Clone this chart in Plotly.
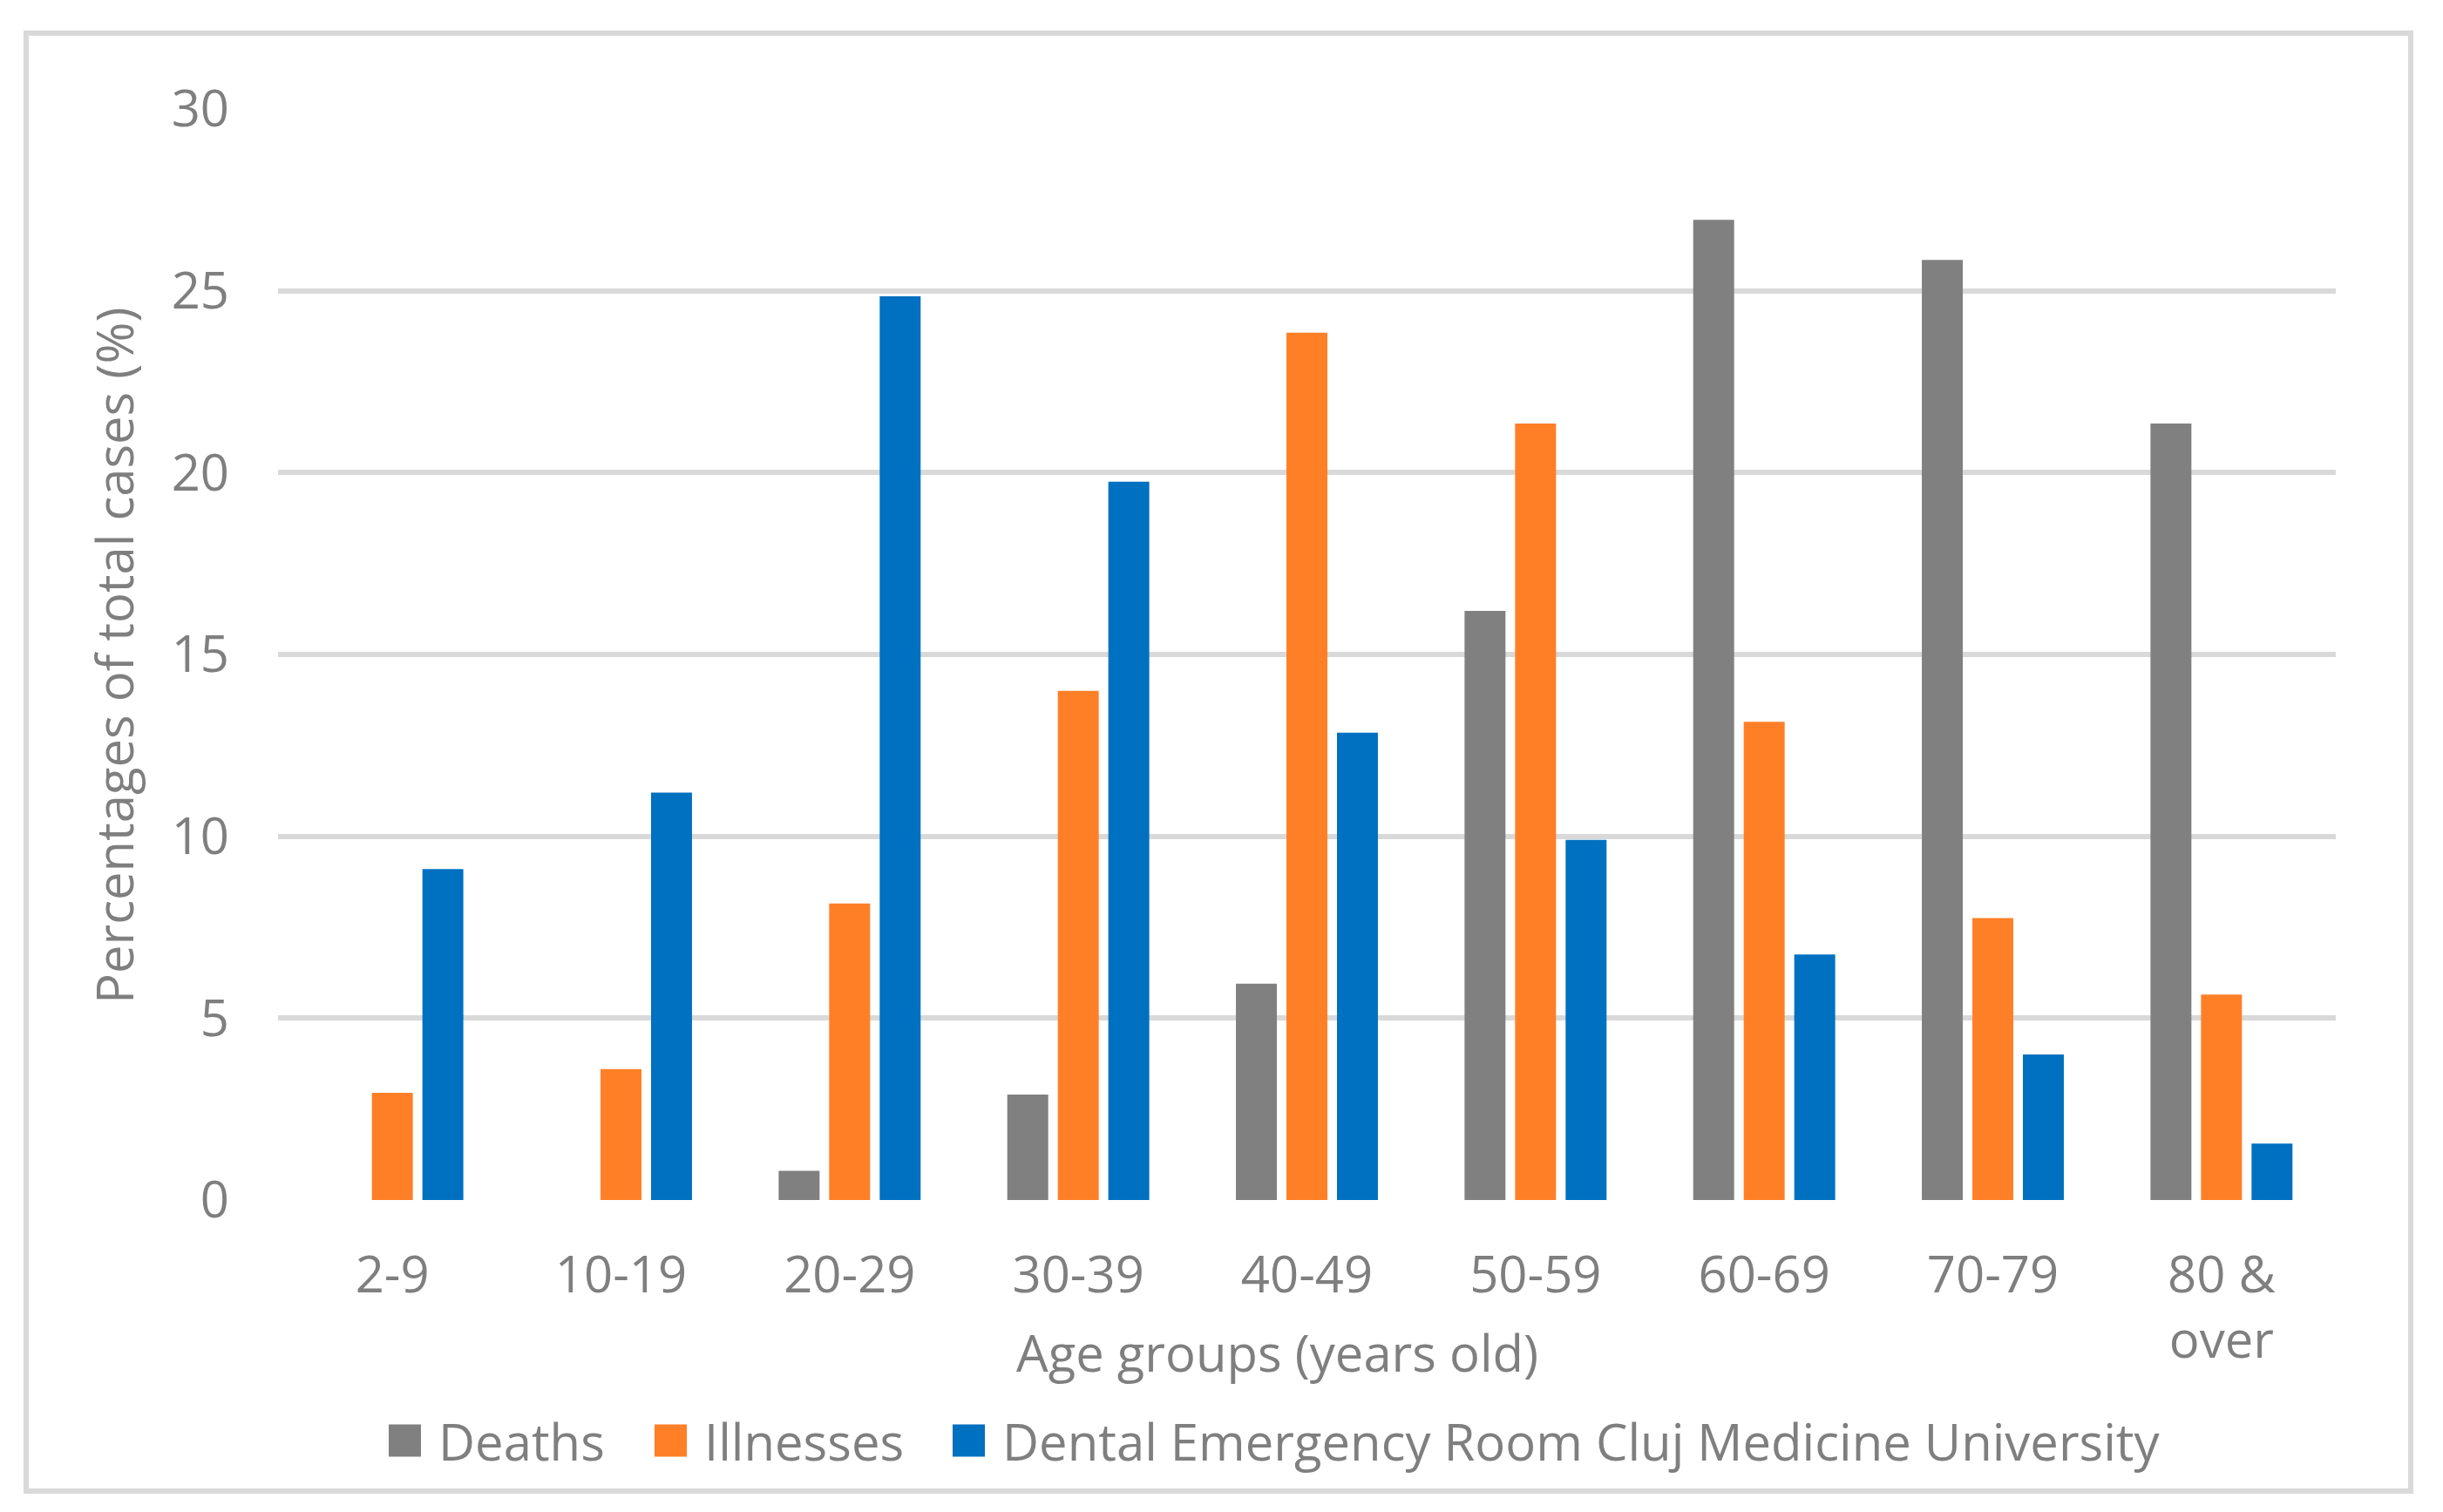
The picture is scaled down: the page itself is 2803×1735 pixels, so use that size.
import plotly.graph_objects as go

# ---------------- data ----------------
categories = ["2-9", "10-19", "20-29", "30-39", "40-49", "50-59", "60-69", "70-79", "80 &<br>over"]
deaths = [0, 0, 0.8, 2.9, 5.95, 16.2, 26.95, 25.85, 21.35]
illnesses = [2.95, 3.6, 8.15, 14.0, 23.85, 21.35, 13.15, 7.75, 5.65]
dental = [9.1, 11.2, 24.85, 19.75, 12.85, 9.9, 6.75, 4.0, 1.55]
series_names = ["Deaths", "Illnesses", "Dental Emergency Room Cluj Medicine University"]
y_ticks = [0, 5, 10, 15, 20, 25, 30]

# ---------------- style ----------------
colors = ["#808080", "#FF7F27", "#0070C0"]
TEXT = "#7f7f7f"
GRID = "#d9d9d9"
FONT = "Open Sans"
FS = 58

# page body has an 8px default margin: size the figure to fit inside it
OFF = 8
W, H = 2803 - 2 * OFF, 1735 - 2 * OFF
# plot area in page pixel coordinates
PX0, PX1, PY0, PY1 = 319, 2680, 125, 1377
L, T = PX0 - OFF, PY0 - OFF
R, B = W - (PX1 - OFF), H - (PY1 - OFF)
PW, PH = PX1 - PX0, PY1 - PY0


def xp(px):
    return (px - PX0) / PW


def yp(py):
    return (PY1 - py) / PH


fig = go.Figure()
for name, vals, col in zip(series_names, [deaths, illnesses, dental], colors):
    fig.add_trace(go.Bar(x=categories, y=vals, name=name, marker_color=col,
                         marker_line_width=0, showlegend=False))

fig.update_layout(
    width=W, height=H,
    margin=dict(l=L, r=R, t=T, b=B, pad=0),
    paper_bgcolor="white", plot_bgcolor="white",
    barmode="group", bargap=0.337, bargroupgap=0.19,
    font=dict(family=FONT, size=FS, color=TEXT),
)
fig.update_xaxes(type="category", showgrid=False, zeroline=False, showline=False,
                 ticks="", ticklabelstandoff=47,
                 tickfont=dict(family=FONT, size=FS, color=TEXT))
fig.update_yaxes(range=[0, 30], tickvals=y_ticks, showgrid=True, gridcolor=GRID,
                 gridwidth=6, zeroline=False, showline=False, ticks="",
                 ticklabelstandoff=55,
                 tickfont=dict(family=FONT, size=FS, color=TEXT))

# axis titles
fig.add_annotation(text="Age groups (years old)", xref="paper", yref="paper",
                   x=xp(1465), y=yp(1551), xanchor="center", yanchor="middle",
                   showarrow=False, font=dict(family=FONT, size=FS, color=TEXT))
fig.add_annotation(text="Percentages of total cases (%)", xref="paper", yref="paper",
                   x=xp(130), y=yp(753), xanchor="center", yanchor="middle",
                   textangle=-90, showarrow=False,
                   font=dict(family=FONT, size=FS, color=TEXT))

# legend (squares + labels)
legend_sq_x = [446, 751, 1093]
SQ = 37
LEG_Y = 1653
for name, col, sx in zip(series_names, colors, legend_sq_x):
    fig.add_shape(type="rect", xref="paper", yref="paper",
                  x0=xp(sx), x1=xp(sx + SQ), y0=yp(LEG_Y + SQ / 2), y1=yp(LEG_Y - SQ / 2),
                  fillcolor=col, line_width=0)
    fig.add_annotation(text=name, xref="paper", yref="paper",
                       x=xp(sx + SQ + 18), y=yp(LEG_Y), xanchor="left", yanchor="middle",
                       showarrow=False, font=dict(family=FONT, size=FS, color=TEXT))

# chart border
fig.add_shape(type="rect", xref="paper", yref="paper",
              x0=xp(30), x1=xp(2766), y0=yp(1711), y1=yp(38),
              line=dict(color=GRID, width=6), fillcolor="rgba(0,0,0,0)", layer="below")

fig.write_html("out.html")
